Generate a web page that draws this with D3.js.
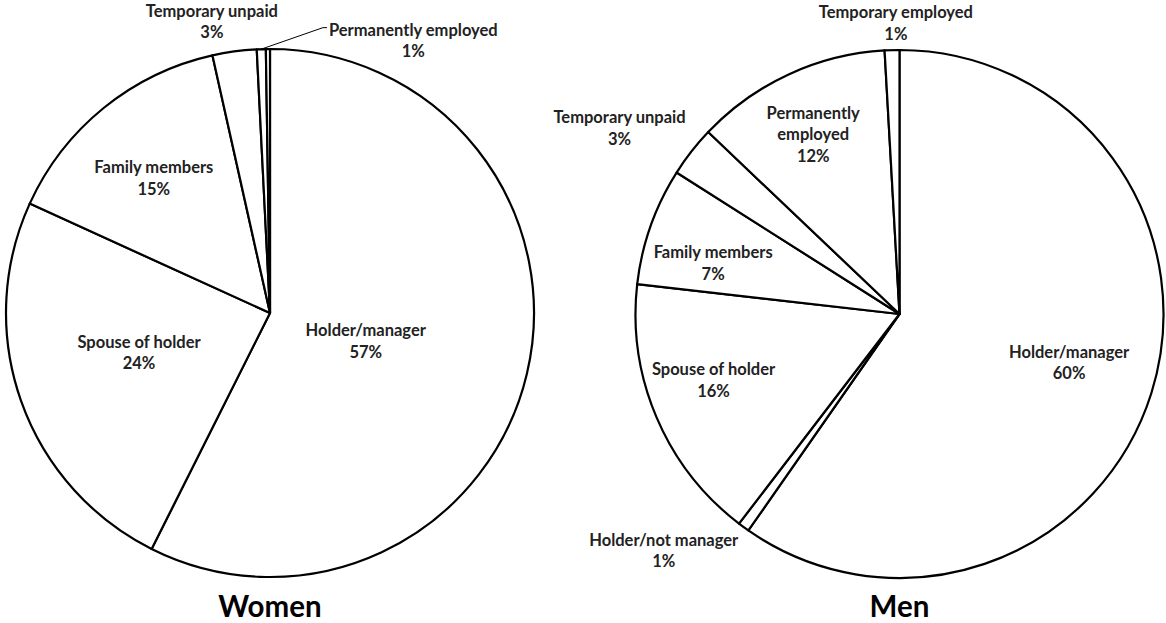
<!DOCTYPE html>
<html>
<head>
<meta charset="utf-8">
<script src="https://cdn.jsdelivr.net/npm/d3@7"></script>
<style>
  body { margin: 0; background: #fff; }
  text { font-family: Lato, "Liberation Sans", sans-serif; font-weight: bold; fill: #222; }
</style>
</head>
<body>
<div id="chart"></div>
<script>
// categories (same order in both pies, clockwise from 12 o'clock)
const categories = ["Holder/manager", "Holder/not manager", "Spouse of holder", "Family members",
  "Temporary unpaid", "Permanently employed", "Temporary employed"];
// shares in %
const women = [57.4, 0, 24.4, 14.7, 2.7, 0.55, 0.25];
const men = [59.7, 0.7, 16.4, 7.2, 3.1, 12.0, 0.9];
const titles = ["Women", "Men"];

// label placement: radius as a fraction of pie radius, and an angle nudge (deg)
const womenLabelR = [0.38, null, 0.52, 0.67, 1.12, 1.16, null];
const womenNudge = [4, 0, 2, -2, -3.6, 29.8, 0];
const menLabelR = [0.67, 1.27, 0.75, 0.73, 1.27, 0.75, 1.095];
const menNudge = [-1, 8.5, 3, -4.7, -4.6, -1, 0.9];

const W = 1166, H = 623;
const radius = 264;

const svg = d3.select("#chart").append("svg")
  .attr("width", W).attr("height", H);

const pie = d3.pie().sort(null).value(d => d.v);
const arc = d3.arc().innerRadius(0).outerRadius(radius);

function drawPie(cx, cy, values, labelR, nudge, title, wrapLong) {
  const data = values.map((v, i) => ({ name: categories[i], v: v, i: i }));
  const g = svg.append("g").attr("transform", `translate(${cx},${cy})`);

  g.selectAll("path")
    .data(pie(data).filter(d => d.data.v > 0))
    .enter()
    .append("path")
    .attr("d", arc)
    .attr("fill", "#fff")
    .attr("stroke", "#000")
    .attr("stroke-width", 2.2)
    .attr("stroke-linejoin", "round");

  //Labels
  pie(data).forEach(d => {
    const i = d.data.i;
    if (labelR[i] == null || d.data.v <= 0) return;
    const mid = (d.startAngle + d.endAngle) / 2;
    const a = mid + nudge[i] * Math.PI / 180;
    const r = labelR[i] * radius;
    const x = Math.sin(a) * r;
    const y = -Math.cos(a) * r;
    let lines = [d.data.name, Math.round(d.data.v) + "%"];
    if (wrapLong && d.data.name == "Permanently employed") {
      lines = ["Permanently", "employed", Math.round(d.data.v) + "%"];
    }
    const lh = 21.5;
    const t = g.append("text")
      .attr("text-anchor", "middle")
      .attr("font-size", 16.5);
    lines.forEach((s, k) => {
      t.append("tspan")
        .attr("x", x)
        .attr("y", y + (k - (lines.length - 1) / 2) * lh)
        .attr("dominant-baseline", "middle")
        .text(s);
    });
    //Leader line for the thin slice labelled far away
    if (!wrapLong && d.data.name == "Permanently employed") {
      const w = t.node().getBBox().width;
      const ex = x - w / 2 - 2;
      const ey = y - lh / 2 - 4;
      g.append("polyline")
        .attr("points", `${Math.sin(mid) * radius},${-Math.cos(mid) * radius} ${ex - 4},${ey} ${ex},${ey}`)
        .attr("fill", "none")
        .attr("stroke", "#000")
        .attr("stroke-width", 1);
    }
  });

  svg.append("text")
    .attr("x", cx)
    .attr("y", 617)
    .attr("text-anchor", "middle")
    .attr("font-size", 29.5)
    .style("fill", "#000")
    .text(title);
}

drawPie(270, 313, women, womenLabelR, womenNudge, titles[0], false);
drawPie(899.5, 314, men, menLabelR, menNudge, titles[1], true);
</script>
</body>
</html>
